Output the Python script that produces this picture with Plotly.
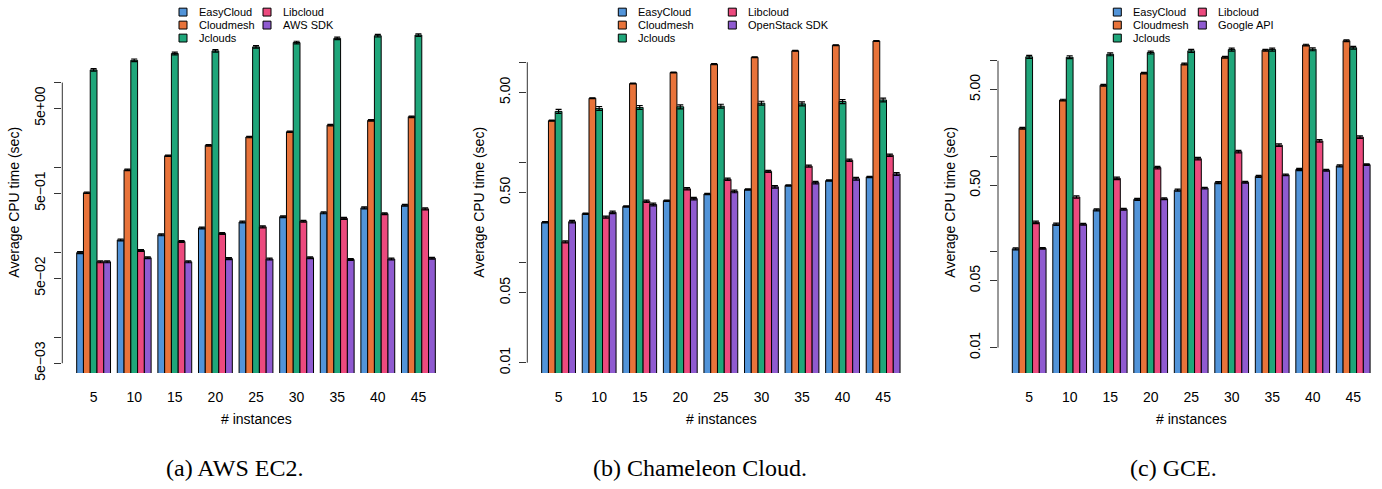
import plotly.graph_objects as go

W, H = 1382, 489

instances = ["5", "10", "15", "20", "25", "30", "35", "40", "45"]
colors = ["#5294D9", "#E8733A", "#1FA67A", "#EC4A7E", "#8F5BD0"]

# Panel (a) AWS EC2
series_a = ["EasyCloud", "Cloudmesh", "Jclouds", "Libcloud", "AWS SDK"]
a_easycloud = [0.100, 0.141, 0.162, 0.195, 0.229, 0.265, 0.294, 0.336, 0.360]
a_cloudmesh = [0.506, 0.94, 1.38, 1.83, 2.29, 2.64, 3.16, 3.60, 3.96]
a_jclouds = [14.1, 18.3, 22.0, 23.6, 26.3, 29.6, 33.1, 35.6, 36.2]
a_libcloud = [0.078, 0.106, 0.135, 0.168, 0.201, 0.234, 0.253, 0.287, 0.327]
a_awssdk = [0.078, 0.087, 0.078, 0.085, 0.084, 0.087, 0.083, 0.084, 0.086]
a_err_pct = [2.5, 2.0, 3.5, 2.5, 2.5]

# Panel (b) Chameleon Cloud
series_b = ["EasyCloud", "Cloudmesh", "Jclouds", "Libcloud", "OpenStack SDK"]
b_easycloud = [0.252, 0.307, 0.363, 0.415, 0.483, 0.537, 0.588, 0.658, 0.715]
b_cloudmesh = [2.61, 4.37, 6.13, 7.90, 9.57, 11.2, 13.0, 14.8, 16.3]
b_jclouds = [3.23, 3.46, 3.54, 3.59, 3.64, 3.90, 3.84, 4.05, 4.20]
b_libcloud = [0.161, 0.284, 0.409, 0.545, 0.679, 0.813, 0.917, 1.05, 1.18]
b_openstack = [0.256, 0.317, 0.380, 0.435, 0.513, 0.570, 0.628, 0.687, 0.766]
b_err_pct = [1.5, 1.0, 4.5, 2.5, 3.0]

# Panel (c) GCE
series_c = ["EasyCloud", "Cloudmesh", "Jclouds", "Libcloud", "Google API"]
c_easycloud = [0.108, 0.195, 0.276, 0.355, 0.443, 0.531, 0.618, 0.729, 0.795]
c_cloudmesh = [1.97, 3.88, 5.54, 7.43, 9.25, 10.9, 12.9, 14.6, 16.2]
c_jclouds = [11.0, 10.9, 11.7, 12.2, 12.7, 13.1, 13.1, 13.2, 13.7]
c_libcloud = [0.204, 0.376, 0.589, 0.764, 0.946, 1.12, 1.31, 1.45, 1.59]
c_googleapi = [0.109, 0.195, 0.280, 0.360, 0.465, 0.536, 0.641, 0.716, 0.820]
c_err_pct = [2.5, 2.0, 3.5, 3.0, 2.0]

captions = ["(a) AWS EC2.", "(b) Chameleon Cloud.", "(c) GCE."]

tick_a_vals = [0.005, 0.01, 0.05, 0.1, 0.5, 1, 5, 10]
tick_a_text = ["5e\u221203", "", "5e\u221202", "", "5e\u221201", "", "5e+00", ""]
tick_bc_vals = [0.01, 0.05, 0.1, 0.5, 1, 5, 10]
tick_bc_text = ["0.01", "0.05", "", "0.50", "", "5.00", ""]

panels = [
    dict(names=series_a, data=[a_easycloud, a_cloudmesh, a_jclouds, a_libcloud, a_awssdk],
         err=a_err_pct, px=(62.3, 450.4), yr=(-2.417, 1.740), xr=(-0.771, 8.788),
         tv=tick_a_vals, tt=tick_a_text, line=(0.005, 10),
         leg=(179, 263), ytitle_x=14, cap_x=234),
    dict(names=series_b, data=[b_easycloud, b_cloudmesh, b_jclouds, b_libcloud, b_openstack],
         err=b_err_pct, px=(527.3, 915.1), yr=(-2.104, 1.425), xr=(-0.771, 8.788),
         tv=tick_bc_vals, tt=tick_bc_text, line=(0.01, 10),
         leg=(618.3, 728.3), ytitle_x=479, cap_x=700),
    dict(names=series_c, data=[c_easycloud, c_cloudmesh, c_jclouds, c_libcloud, c_googleapi],
         err=c_err_pct, px=(998.0, 1382.0), yr=(-2.267, 1.430), xr=(-0.770, 8.711),
         tv=tick_bc_vals, tt=tick_bc_text, line=(0.01, 10),
         leg=(1113.3, 1198.3), ytitle_x=950, cap_x=1173),
]

fig = go.Figure()
ydom = [(H - 379.3) / H, (H - 20) / H]
shapes, annotations = [], []
font = "Liberation Sans, Arial, sans-serif"

for i, p in enumerate(panels):
    sfx = "" if i == 0 else str(i + 1)
    for j, (name, vals) in enumerate(zip(p["names"], p["data"])):
        fig.add_trace(go.Bar(
            x=instances, y=vals, name=name, showlegend=False,
            marker=dict(color=colors[j], line=dict(color="black", width=1)),
            error_y=dict(type="percent", value=p["err"][j], color="black",
                         thickness=1.2, width=3),
            xaxis="x" + sfx, yaxis="y" + sfx,
        ))
    fig.update_layout(**{
        "xaxis" + sfx: dict(domain=[p["px"][0] / W, p["px"][1] / W], anchor="y" + sfx,
                            type="category", range=list(p["xr"]), showgrid=False,
                            zeroline=False, showline=False, ticks="outside", ticklen=11,
                            tickcolor="rgba(0,0,0,0)",
                            tickfont=dict(size=14, color="black", family=font)),
        "yaxis" + sfx: dict(domain=ydom, anchor="x" + sfx, type="log", range=list(p["yr"]),
                            tickvals=p["tv"], ticktext=p["tt"], tickangle=-90,
                            ticks="outside", ticklen=7, tickcolor="#333", tickwidth=1,
                            ticklabelstandoff=4,
                            showgrid=False, zeroline=False, showline=False,
                            tickfont=dict(size=14, color="black", family=font)),
    })
    # axis line spanning tick range
    shapes.append(dict(type="line", xref="x" + sfx + " domain", x0=0, x1=0,
                       yref="y" + sfx, y0=p["line"][0], y1=p["line"][1],
                       line=dict(color="#333", width=1)))
    # legend (two columns: 3 + 2)
    rows = [12.3, 25.5, 38.7]
    for j, name in enumerate(p["names"]):
        col, row = (0, j) if j < 3 else (1, j - 3)
        sx = p["leg"][col]
        cy = rows[row]
        shapes.append(dict(type="rect", xref="paper", yref="paper",
                           x0=sx / W, x1=(sx + 8) / W,
                           y0=1 - (cy + 4) / H, y1=1 - (cy - 4) / H,
                           fillcolor=colors[j], line=dict(color="black", width=1)))
        annotations.append(dict(text=name, xref="paper", yref="paper",
                                x=(sx + 18) / W, y=1 - cy / H, xanchor="left",
                                yanchor="middle", showarrow=False,
                                font=dict(size=11, color="black", family=font)))
    cx = (p["px"][0] + p["px"][1]) / 2 if i < 2 else 1191.9
    annotations.append(dict(text="# instances", xref="paper", yref="paper",
                            x=cx / W, y=1 - 426 / H, xanchor="center", yanchor="middle",
                            showarrow=False, font=dict(size=14, color="black", family=font)))
    annotations.append(dict(text="Average CPU time (sec)", xref="paper", yref="paper",
                            x=p["ytitle_x"] / W, y=1 - 206 / H, xanchor="center",
                            yanchor="middle", textangle=-90, showarrow=False,
                            font=dict(size=14, color="black", family=font)))
    annotations.append(dict(text=captions[i], xref="paper", yref="paper",
                            x=p["cap_x"] / W, y=1 - 476 / H, xanchor="center",
                            yanchor="middle", showarrow=False,
                            font=dict(size=24, color="black",
                                      family="Liberation Serif, Times New Roman, serif")))

fig.update_layout(width=W, height=H, margin=dict(l=0, r=0, t=0, b=0),
                  paper_bgcolor="white", plot_bgcolor="white",
                  barmode="group", bargap=1 / 6, bargroupgap=0,
                  shapes=shapes, annotations=annotations)

fig.write_html("out.html", config={"displayModeBar": False},
               post_script="document.body.style.margin='0';document.body.style.overflow='hidden';")
